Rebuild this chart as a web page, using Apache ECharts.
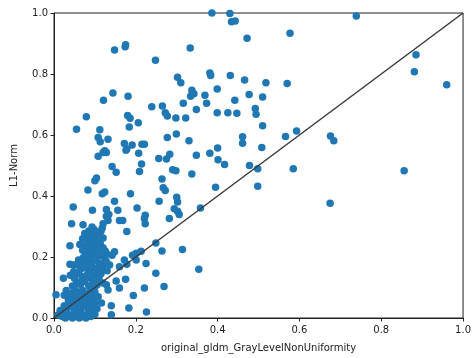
<!DOCTYPE html>
<html>
<head>
<meta charset="utf-8">
<script src="https://cdn.jsdelivr.net/npm/echarts@6/dist/echarts.min.js"></script>
<style>
  html, body { margin: 0; padding: 0; background: #fff; }
  #main { width: 474px; height: 358px; }
</style>
</head>
<body>
<div id="main"></div>
<script>
// points: [GrayLevelNonUniformity, L1-Norm]
var upperPoints = [
  [0.386,1.0],[0.43,0.998],[0.434,0.971],[0.443,0.974],[0.472,0.917],[0.577,0.934],[0.739,0.990],
  [0.148,0.879],[0.175,0.896],[0.174,0.889],[0.248,0.845],[0.333,0.885],
  [0.302,0.789],[0.310,0.771],[0.381,0.803],[0.383,0.795],[0.431,0.795],[0.466,0.780],[0.518,0.771],[0.570,0.769],
  [0.885,0.863],[0.881,0.807],[0.960,0.765],
  [0.144,0.738],[0.121,0.714],[0.181,0.727],[0.337,0.747],[0.334,0.727],[0.342,0.735],[0.399,0.751],[0.369,0.730],
  [0.373,0.704],[0.442,0.714],[0.477,0.733],[0.510,0.725],
  [0.316,0.704],[0.239,0.693],[0.265,0.695],[0.348,0.684],[0.399,0.673],[0.425,0.673],[0.447,0.671],[0.492,0.687],[0.494,0.668],
  [0.079,0.660],[0.180,0.664],[0.186,0.655],[0.272,0.673],[0.277,0.662],[0.298,0.656],[0.322,0.656]
];
var middlePoints = [
  [0.055,0.619],[0.206,0.640],[0.184,0.626],[0.112,0.617],[0.108,0.592],[0.113,0.578],[0.132,0.586],[0.172,0.572],
  [0.178,0.554],[0.191,0.567],[0.215,0.570],[0.221,0.570],[0.124,0.548],[0.128,0.543],[0.120,0.543],[0.108,0.530],
  [0.207,0.540],[0.176,0.55],
  [0.277,0.592],[0.299,0.603],[0.330,0.581],[0.348,0.534],[0.283,0.537],[0.275,0.521],[0.256,0.523],
  [0.510,0.630],[0.566,0.595],[0.593,0.613],[0.461,0.594],[0.461,0.573],[0.508,0.559],[0.676,0.597],[0.684,0.581],
  [0.400,0.557],[0.381,0.540],[0.401,0.519],[0.417,0.503],[0.478,0.500],[0.498,0.489],[0.585,0.489],[0.395,0.429],
  [0.498,0.432],[0.358,0.361],[0.675,0.376],[0.856,0.483],[0.354,0.160],
  [0.142,0.497],[0.152,0.478],[0.214,0.505],[0.209,0.480],[0.290,0.486],[0.298,0.483],[0.337,0.472],[0.104,0.459],
  [0.100,0.450],[0.264,0.456],
  [0.083,0.420],[0.124,0.413],[0.118,0.407],[0.187,0.407],[0.267,0.427],[0.272,0.418],[0.148,0.383],[0.257,0.383],
  [0.300,0.396],[0.302,0.380],
  [0.047,0.364],[0.094,0.353],[0.128,0.356],[0.134,0.339],[0.156,0.353],[0.203,0.361],[0.223,0.337],[0.294,0.358],
  [0.302,0.350],[0.306,0.339],[0.282,0.326]
];
var lowerPoints = [
  [0.043,0.309],[0.071,0.306],[0.128,0.334],[0.132,0.320],[0.160,0.320],[0.168,0.32],[0.120,0.309],[0.221,0.326],
  [0.223,0.309],[0.178,0.284],[0.075,0.277],[0.1,0.282],[0.112,0.280],[0.083,0.261],[0.095,0.263],[0.112,0.25],
  [0.039,0.237],[0.063,0.241],[0.249,0.246],[0.264,0.220],[0.314,0.225],[0.148,0.217],[0.142,0.206],[0.213,0.219],
  [0.192,0.206],[0.201,0.212],[0.124,0.195],[0.039,0.176],[0.047,0.174],[0.172,0.190],[0.178,0.176],[0.160,0.168],
  [0.136,0.174],[0.225,0.179],[0.201,0.190],[0.023,0.130],[0.005,0.076],[0.108,0.125],[0.152,0.121],[0.175,0.127],
  [0.128,0.109],[0.160,0.098],[0.132,0.092],[0.194,0.074],[0.140,0.040],[0.183,0.033],[0.226,0.020],[0.140,0.011],
  [0.269,0.103],[0.249,0.147],[0.221,0.098],[0.116,0.049],[0.097,0.022],[0.023,0.022]
];
// the dense blob near the origin, estimated
var clusterPoints = [
  [0.085,0.285],[0.098,0.29],[0.105,0.28],[0.09,0.27],[0.11,0.27],[0.115,0.285],[0.093,0.298],[0.118,0.295],
  [0.07,0.26],[0.08,0.255],[0.095,0.255],[0.105,0.26],[0.12,0.262],[0.088,0.245],[0.1,0.24],[0.113,0.243],
  [0.075,0.235],[0.085,0.225],[0.095,0.23],[0.108,0.225],[0.12,0.23],[0.078,0.21],[0.09,0.205],[0.1,0.215],
  [0.115,0.205],[0.13,0.21],[0.07,0.222],[0.083,0.238],[0.105,0.2],[0.125,0.22],
  [0.06,0.19],[0.07,0.18],[0.08,0.195],[0.09,0.185],[0.1,0.19],[0.11,0.18],[0.12,0.175],[0.065,0.16],[0.075,0.165],
  [0.085,0.155],[0.095,0.165],[0.105,0.155],[0.118,0.16],[0.13,0.155],[0.055,0.175],[0.072,0.198],[0.092,0.172],
  [0.112,0.168],[0.128,0.185],[0.082,0.175],
  [0.04,0.14],[0.05,0.13],[0.06,0.145],[0.07,0.135],[0.08,0.14],[0.09,0.13],[0.1,0.14],[0.11,0.13],[0.055,0.115],
  [0.065,0.11],[0.075,0.12],[0.085,0.105],[0.095,0.115],[0.105,0.108],[0.12,0.115],[0.048,0.152],[0.088,0.148],
  [0.115,0.145],[0.068,0.125],[0.045,0.105],[0.098,0.098],
  [0.03,0.09],[0.04,0.08],[0.05,0.095],[0.06,0.085],[0.07,0.09],[0.08,0.08],[0.09,0.09],[0.1,0.085],[0.035,0.06],
  [0.045,0.065],[0.055,0.055],[0.065,0.065],[0.075,0.058],[0.085,0.06],[0.095,0.065],[0.108,0.07],[0.05,0.075],
  [0.068,0.075],[0.088,0.072],[0.025,0.075],[0.1,0.05],
  [0.01,0.01],[0.015,0.025],[0.02,0.005],[0.025,0.04],[0.03,0.02],[0.035,0.035],[0.04,0.01],[0.045,0.045],
  [0.05,0.025],[0.055,0.005],[0.06,0.04],[0.065,0.02],[0.07,0.035],[0.075,0.01],[0.08,0.045],[0.085,0.025],
  [0.09,0.005],[0.028,0.0],[0.045,0.0],[0.062,0.0],[0.078,0.0],[0.038,0.05],[0.058,0.048],[0.072,0.05],
  [0.092,0.04],[0.105,0.03],[0.1,0.012],[0.052,0.012]
];
var diagonal = [[0, 0], [1, 1]];
var xTitle = 'original_gldm_GrayLevelNonUniformity';
var yTitle = 'L1-Norm';

var allPoints = upperPoints.concat(middlePoints, lowerPoints, clusterPoints);

var chart = echarts.init(document.getElementById('main'));
var labelStyle = { color: '#222', fontSize: 10, fontFamily: 'DejaVu Sans',
  formatter: function (v) { return v.toFixed(1); } };

chart.setOption({
  animation: false,
  textStyle: { fontFamily: 'DejaVu Sans' },
  grid: { left: 54, right: 8, top: 13, bottom: 38, show: true, borderColor: '#222', borderWidth: 1 },
  xAxis: {
    type: 'value', min: 0, max: 1, interval: 0.2,
    name: xTitle, nameLocation: 'middle', nameGap: 25,
    nameTextStyle: { color: '#222', fontSize: 10 },
    axisLine: { show: true, lineStyle: { color: '#222' } },
    axisTick: { show: true, length: 3.5, lineStyle: { color: '#222' } },
    axisLabel: Object.assign({ margin: 7 }, labelStyle),
    splitLine: { show: false }
  },
  yAxis: {
    type: 'value', min: 0, max: 1, interval: 0.2,
    name: yTitle, nameLocation: 'middle', nameGap: 35, nameRotate: 90,
    nameTextStyle: { color: '#222', fontSize: 10 },
    axisLine: { show: true, lineStyle: { color: '#222' } },
    axisTick: { show: true, length: 3.5, lineStyle: { color: '#222' } },
    axisLabel: Object.assign({ margin: 6 }, labelStyle),
    splitLine: { show: false }
  },
  series: [
    {
      type: 'scatter',
      data: allPoints,
      symbolSize: 7.5,
      clip: true,
      itemStyle: { color: '#1f77b4', opacity: 1 }
    },
    {
      type: 'line',
      data: diagonal,
      symbol: 'none',
      z: 3,
      lineStyle: { color: '#3a3a3a', width: 1.5 }
    }
  ]
});
</script>
</body>
</html>
